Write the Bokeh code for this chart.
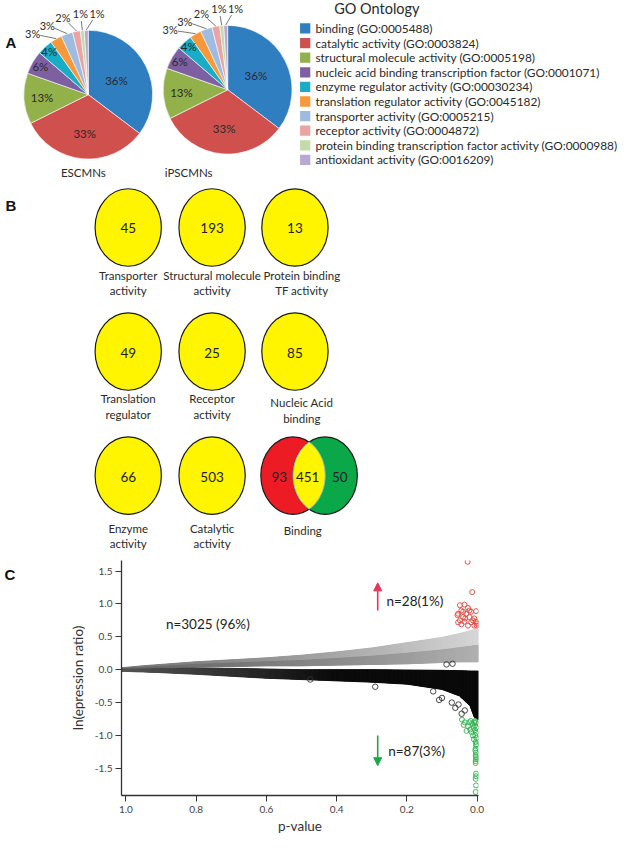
import numpy as np
from bokeh.plotting import figure
from bokeh.layouts import column, row
from bokeh.models import Range1d, FixedTicker, PrintfTickFormatter, Arrow, NormalHead
from bokeh.core.properties import value
from bokeh.embed import file_html
from bokeh.resources import INLINE

# ---------------- data ----------------
go_terms = [
    "binding (GO:0005488)",
    "catalytic activity (GO:0003824)",
    "structural molecule activity (GO:0005198)",
    "nucleic acid binding transcription factor (GO:0001071)",
    "enzyme regulator activity (GO:00030234)",
    "translation regulator activity (GO:0045182)",
    "transporter activity (GO:0005215)",
    "receptor activity (GO:0004872)",
    "protein binding transcription factor activity (GO:0000988)",
    "antioxidant activity (GO:0016209)",
]
go_colors = ["#2f7ebf", "#d0504d", "#92b14b", "#7d5fa2", "#17adc6",
             "#f7983a", "#9ebce0", "#e9a4a3", "#c3dba8", "#b9a8cf"]
escmn_pct = [36, 33, 13, 6, 4, 3, 3, 2, 1, 1]
ipscmn_pct = [36, 33, 13, 6, 4, 3, 3, 2, 1, 1]
pie_names = ["ESCMNs", "iPSCMNs"]

b_label_lines = [("Transporter", "activity"), ("Structural molecule", "activity"),
                 ("Protein binding", "TF activity"), ("Translation", "regulator"),
                 ("Receptor", "activity"), ("Nucleic Acid", "binding"),
                 ("Enzyme", "activity"), ("Catalytic", "activity")]
b_counts = [45, 193, 13, 49, 25, 85, 66, 503]
binding_counts = [93, 451, 50]      # ESCMN only, shared, iPSCMN only
binding_label = "Binding"

# panel C : envelope of the non-significant cloud
pv = [1.012, 0.95, 0.9, 0.8, 0.7, 0.6, 0.5, 0.4, 0.3, 0.2, 0.1, 0.05, 0.02, 0.008, -0.003]
up_top = [0.03, 0.06, 0.08, 0.12, 0.15, 0.18, 0.22, 0.27, 0.33, 0.41, 0.49, 0.55, 0.59, 0.61, 0.62]
up_bot = [0.005, 0.01, 0.02, 0.04, 0.05, 0.06, 0.06, 0.07, 0.08, 0.09, 0.11, 0.12, 0.12, 0.12, 0.12]
lo_top = [0.01, 0.01, 0.015, 0.025, 0.02, 0.01, 0.0, 0.0, 0.0, -0.005, -0.01, -0.015, -0.02, -0.02, -0.02]
lo_bot = [-0.025, -0.035, -0.045, -0.07, -0.1, -0.13, -0.15, -0.17, -0.19, -0.22, -0.3, -0.4, -0.55, -0.72, -0.76]

out_p = [0.29, 0.475, 0.108, 0.10, 0.072, 0.053, 0.044, 0.062, 0.035, 0.125, 0.087, 0.07]
out_ln = [-0.26, -0.15, -0.46, -0.43, -0.50, -0.53, -0.67, -0.58, -0.62, -0.33, 0.08, 0.09]

up_p = [0.027, 0.014, 0.049, 0.036, 0.026, 0.045, 0.054, 0.031, 0.017, 0.003, 0.040, 0.022, 0.008, 0.049,
        0.036, 0.017, 0.0, 0.045, 0.026, 0.008, 0.056, 0.034, 0.012, 0.040, 0.022, 0.003, 0.054, 0.001]
up_ln = [1.64, 1.18, 0.98, 0.99, 0.94, 0.90, 0.85, 0.85, 0.88, 0.89, 0.80, 0.80, 0.78, 0.75,
         0.73, 0.72, 0.70, 0.69, 0.67, 0.67, 0.83, 0.78, 0.75, 0.88, 0.90, 0.73, 0.72, 0.67]

dn_p = [0.043, 0.035, 0.026, 0.020, 0.012, 0.038, 0.030, 0.016, 0.009, 0.006, 0.003, 0.006, 0.002, 0.006,
        0.003, 0.005, 0.002, 0.004, 0.003, 0.004, 0.003, 0.004, 0.003, 0.004, 0.003, 0.003, 0.004, 0.003,
        0.004, 0.008, 0.010, 0.014, 0.018, 0.022, 0.002, 0.005, 0.003, 0.004]
dn_ln = [-0.76, -0.80, -0.86, -0.91, -1.00, -0.84, -0.93, -0.95, -1.06, -0.78, -0.80, -0.85, -0.88, -0.92,
         -0.96, -1.00, -1.04, -1.10, -1.15, -1.20, -1.26, -1.30, -1.36, -1.42, -1.58, -1.62, -1.66, -1.76,
         -1.86, -0.80, -0.88, -0.82, -0.78, -0.80, -1.13, -1.23, -1.33, -1.39]

notes = ["n=3025 (96%)", "n=28(1%)", "n=87(3%)"]

# ---------------- styling helpers ----------------
FONT = value("Lato")
TXT = "#2a2a2a"


def lerp(c1, c2, t):
    t = max(0.0, min(1.0, float(t)))
    a = [int(c1[i:i + 2], 16) for i in (1, 3, 5)]
    b = [int(c2[i:i + 2], 16) for i in (1, 3, 5)]
    return "#%02x%02x%02x" % tuple(int(round(a[k] + (b[k] - a[k]) * t)) for k in range(3))


def shade(p, gamma):
    return max(0.0, min(1.0, 1.0 - p)) ** gamma


# ---------------- top figure (panels A and B), reference-pixel coordinates ----------------
top = figure(width=624, height=555, x_range=Range1d(0, 640), y_range=Range1d(-566, 0),
             x_axis_location=None, y_axis_location=None, min_border=0,
             output_backend="svg", toolbar_location=None)
top.outline_line_color = None
top.grid.visible = False


def draw_pie(cx, cy, r, pct, in_f, out_xy, name, name_xy):
    tot = float(sum(pct))
    cum = np.concatenate([[0.0], np.cumsum(pct)]) / tot
    starts = list(np.pi / 2 - 2 * np.pi * cum[:-1])
    ends = list(np.pi / 2 - 2 * np.pi * cum[1:])
    top.wedge(x=cx, y=-cy, radius=r, start_angle=starts, end_angle=ends, direction="clock",
              fill_color=go_colors, line_color="white", line_width=0.6)
    mids = (cum[:-1] + cum[1:]) / 2 * 2 * np.pi
    lx, ly, lt = [], [], []
    for i, f in enumerate(in_f):
        lx.append(cx + f * r * np.sin(mids[i]))
        ly.append(-(cy - f * r * np.cos(mids[i])))
        lt.append("%d%%" % pct[i])
    top.text(x=lx, y=ly, text=lt, text_font=FONT, text_font_size="11.5px", text_color=TXT,
             text_align="center", text_baseline="middle")
    ox, oy, ot, sx0, sy0, sx1, sy1 = [], [], [], [], [], [], []
    for j, (x, y) in enumerate(out_xy):
        i = len(in_f) + j
        ex = cx + r * np.sin(mids[i])
        ey = cy - r * np.cos(mids[i])
        d = np.hypot(ex - x, ey - y)
        ux, uy = (ex - x) / d, (ey - y) / d
        sx0.append(x + 8 * ux); sy0.append(-(y + 8 * uy))
        sx1.append(ex); sy1.append(-ey)
        ox.append(x); oy.append(-y); ot.append("%d%%" % pct[i])
    top.segment(x0=sx0, y0=sy0, x1=sx1, y1=sy1, line_color="#555555", line_width=0.8)
    top.text(x=ox, y=oy, text=ot, text_font=FONT, text_font_size="11px", text_color=TXT,
             text_align="center", text_baseline="middle")
    top.text(x=[name_xy[0]], y=[-name_xy[1]], text=[name], text_font=FONT, text_font_size="11.5px",
             text_color=TXT, text_align="center", text_baseline="middle")


in_frac = [0.49, 0.6, 0.72, 0.86, 0.9]
draw_pie(90, 96, 66, escmn_pct, in_frac,
         [(33, 34), (48, 25), (64, 17), (82, 13), (99, 13)], pie_names[0], (85, 175))
draw_pie(233, 91, 66, ipscmn_pct, in_frac,
         [(174, 30), (189, 21), (206, 13), (224, 8), (241, 8)], pie_names[1], (193, 175))

# legend
leg_y = [-(28.5 + 14.9 * i) for i in range(len(go_terms))]
top.rect(x=[312.5] * len(go_terms), y=leg_y, width=10.5, height=10.5, fill_color=go_colors, line_color=None)
top.text(x=[323] * len(go_terms), y=leg_y, text=go_terms, text_font=FONT, text_font_size="11.9px",
         text_color=TXT, text_baseline="middle")
top.text(x=[386], y=[-8.5], text=["GO Ontology"], text_font=FONT, text_font_size="14.5px",
         text_color=TXT, text_align="center", text_baseline="middle")

# panel letters
top.text(x=[5, 5], y=[-43, -209], text=["A", "B"], text_font=value("Liberation Sans"),
         text_font_style="bold", text_font_size="15px", text_color="#111111", text_baseline="middle")

# panel B yellow ellipses
col_x = [131, 217, 302]
row_y = [231.5, 358, 484.5]
lab_x = [131, 217, 309]
lab_y = [(280, 296), (406, 422), (538, 554)]
ex_, ey_, nt_ = [], [], []
l1x, l1y, l1t, l2x, l2y, l2t = [], [], [], [], [], []
for k, cnt in enumerate(b_counts):
    r_, c_ = divmod(k, 3)
    ex_.append(col_x[c_]); ey_.append(-row_y[r_]); nt_.append(str(cnt))
    dy = 4 if (r_ == 1 and c_ == 2) else 0
    l1x.append(lab_x[c_]); l1y.append(-(lab_y[r_][0] + dy)); l1t.append(b_label_lines[k][0])
    l2x.append(lab_x[c_]); l2y.append(-(lab_y[r_][1] + dy)); l2t.append(b_label_lines[k][1])
top.ellipse(x=ex_, y=ey_, width=68, height=79, fill_color="#fff500", line_color="#1a1a1a", line_width=1.2)
top.text(x=ex_, y=[v - 1 for v in ey_], text=nt_, text_font=FONT, text_font_size="13.5px", text_color="#222222",
         text_align="center", text_baseline="middle")
top.text(x=l1x + l2x, y=l1y + l2y, text=l1t + l2t, text_font=FONT, text_font_size="11.5px", text_color=TXT,
         text_align="center", text_baseline="middle")

# Venn for binding
vy = 484.5
top.ellipse(x=[300], y=[-vy], width=66, height=79, fill_color="#ed1c24", line_color="#1a1a1a", line_width=1.2)
top.ellipse(x=[333], y=[-vy], width=66, height=79, fill_color="#0ba84a", line_color="#1a1a1a", line_width=1.2)
t1 = np.linspace(-np.pi / 3, np.pi / 3, 40)
t2 = np.linspace(2 * np.pi / 3, 4 * np.pi / 3, 40)
lens_x = list(300 + 33 * np.cos(t1)) + list(333 + 33 * np.cos(t2))
lens_y = list(-(vy + 39.5 * np.sin(t1))) + list(-(vy + 39.5 * np.sin(t2)))
top.patch(lens_x, lens_y, fill_color="#fff500", line_color="#8fb7c8", line_width=1.0)
top.text(x=[286, 315, 348], y=[-486] * 3, text=[str(v) for v in binding_counts], text_font=FONT,
         text_font_size="13.5px", text_color="#222222", text_align="center", text_baseline="middle")
top.text(x=[310], y=[-541], text=[binding_label], text_font=FONT, text_font_size="11.5px", text_color=TXT,
         text_align="center", text_baseline="middle")

# ---------------- panel C ----------------
figc = figure(width=50, height=281, x_range=Range1d(0, 50), y_range=Range1d(-281, 0),
              x_axis_location=None, y_axis_location=None, min_border=0,
              output_backend="svg", toolbar_location=None)
figc.outline_line_color = None
figc.grid.visible = False
figc.text(x=[4], y=[-17], text=["C"], text_font=value("Liberation Sans"), text_font_style="bold",
          text_font_size="15px", text_color="#111111", text_baseline="middle")

sc = figure(width=574, height=281, x_range=Range1d(1.0125, -0.004), y_range=Range1d(-1.913, 1.66),
            min_border_left=71, min_border_right=146, min_border_top=5, min_border_bottom=41,
            output_backend="svg", toolbar_location=None)
sc.outline_line_color = None
sc.grid.visible = False

SUB = 8  # each envelope segment is painted as SUB slices (same straight edges) for a smooth shade


def band(top_, bot_, color_of_p, base_color):
    # one solid base patch underneath hides any seams between the shaded slices
    sc.patch(list(pv) + list(pv[::-1]), list(top_) + list(bot_[::-1]),
             fill_color=base_color, line_color=None)
    xs_l, ys_l, cols = [], [], []
    for i in range(len(pv) - 1):
        for s in range(SUB):
            a, b = s / SUB, (s + 1) / SUB
            xa = pv[i] + (pv[i + 1] - pv[i]) * a
            xb = pv[i] + (pv[i + 1] - pv[i]) * b
            ta = top_[i] + (top_[i + 1] - top_[i]) * a
            tb = top_[i] + (top_[i + 1] - top_[i]) * b
            ba = bot_[i] + (bot_[i + 1] - bot_[i]) * a
            bb = bot_[i] + (bot_[i + 1] - bot_[i]) * b
            xs_l.append([xa, xb, xb, xa])
            ys_l.append([ta, tb, bb, ba])
            cols.append(color_of_p(0.5 * (xa + xb)))
    sc.patches(xs_l, ys_l, fill_color=cols, line_color=cols, line_width=1.0)


up_mid = [b + 0.5 * (t - b) for t, b in zip(up_top, up_bot)]
band(up_top, up_bot, lambda p: lerp("#7a7a7a", "#d6d6d6", shade(p, 1.4)), "#a8a8a8")
band(up_mid, up_bot, lambda p: lerp("#686868", "#b0b0b0", shade(p, 1.4)), "#8c8c8c")
band(lo_top, lo_bot, lambda p: lerp("#555555", "#0a0a0a", shade(p, 1.0) / 0.6), "#0a0a0a")

sc.scatter(out_p, out_ln, marker="circle", size=5.5, fill_color=None, line_color="#333333", line_width=0.9)
sc.scatter(up_p, up_ln, marker="circle", size=5, fill_color=None, line_color="#e0463c", line_width=0.9)
sc.scatter(dn_p, dn_ln, marker="circle", size=5, fill_color=None, line_color="#33b14f", line_width=0.9)

red = "#e8335b"
green = "#1ea84c"
sc.add_layout(Arrow(end=NormalHead(size=8, fill_color=red, line_color=red), x_start=0.283, y_start=0.90,
                    x_end=0.283, y_end=1.32, line_color=red, line_width=1.6))
sc.add_layout(Arrow(end=NormalHead(size=8, fill_color=green, line_color=green), x_start=0.283, y_start=-1.0,
                    x_end=0.283, y_end=-1.46, line_color=green, line_width=1.6))
sc.text(x=[0.886, 0.258, 0.253], y=[0.69, 1.05, -1.24], text=notes, text_font=FONT,
        text_font_size="13.5px", text_color="#222222", text_baseline="middle")

for ax in (sc.xaxis[0], sc.yaxis[0]):
    ax.axis_line_color = "#333333"
    ax.axis_line_width = 1.3
    ax.major_tick_line_color = "#333333"
    ax.major_tick_in = 0
    ax.major_tick_out = 6
    ax.minor_tick_line_color = None
    ax.major_label_text_font = "Lato"
    ax.major_label_text_font_size = "10px"
    ax.major_label_text_color = "#444444"
    ax.axis_label_text_font = "Lato"
    ax.axis_label_text_font_size = "13.5px"
    ax.axis_label_text_font_style = "normal"
    ax.axis_label_text_color = "#333333"
    ax.formatter = PrintfTickFormatter(format="%.1f")
sc.xaxis.ticker = FixedTicker(ticks=[0.0, 0.2, 0.4, 0.6, 0.8, 1.0])
sc.yaxis.ticker = FixedTicker(ticks=[-1.5, -1.0, -0.5, 0.0, 0.5, 1.0, 1.5])
sc.xaxis.axis_label = "p-value"
sc.yaxis.axis_label = "ln(epression ratio)"
sc.xaxis.major_label_standoff = 4
sc.xaxis.axis_label_standoff = 2
sc.yaxis.major_label_standoff = 3
sc.yaxis.axis_label_standoff = 6

layout = column(top, row(figc, sc))
open("out.html", "w").write(file_html(layout, INLINE))
